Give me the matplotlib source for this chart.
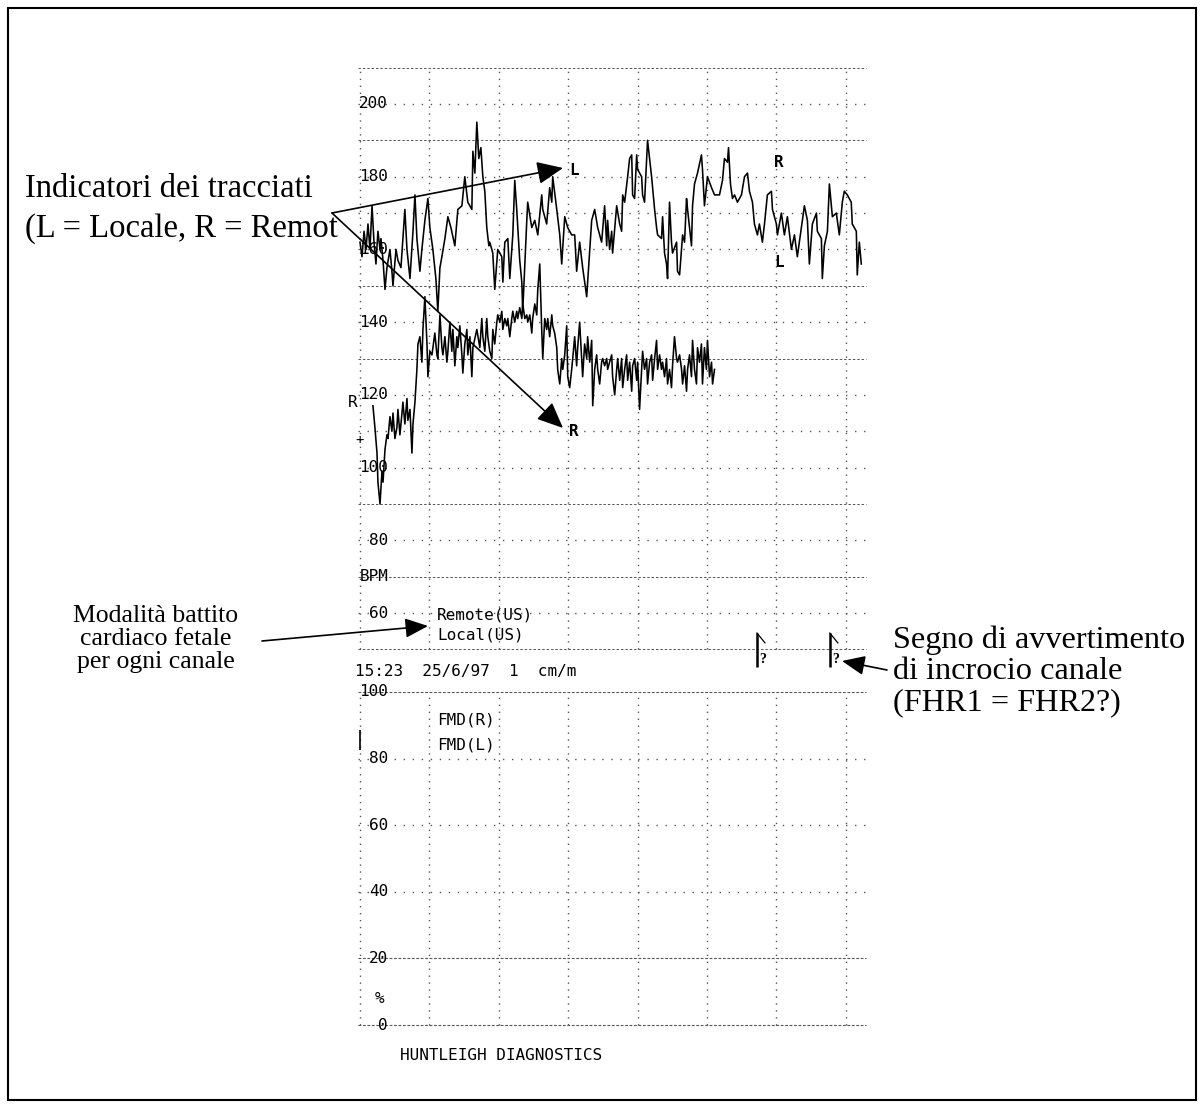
import numpy as np
import matplotlib
matplotlib.use("Agg")
import matplotlib.pyplot as plt
from matplotlib.patches import Rectangle

# ---------------- data ----------------
# Local channel FHR trace: time in seconds from the first minute line, bpm
local_time_s = [0.0, 1.7, 3.5, 5.2, 6.9, 8.6, 10.4, 12.1, 13.8, 15.5,
                17.3, 18.1, 19.9, 21.6, 23.3, 25.9, 27.6, 28.5, 31.1, 32.8,
                35.4, 37.1, 38.8, 40.6, 43.2, 45.8, 47.5, 49.2, 51.8, 53.5,
                56.1, 58.7, 60.4, 63.0, 65.6, 67.3, 69.1, 70.8, 73.4, 76.0,
                78.6, 82.0, 84.6, 88.1, 90.6, 93.2, 96.7, 97.6, 99.3, 101.0,
                102.7, 104.5, 106.2, 107.9, 109.6, 111.4, 112.2, 114.8, 116.5, 119.1,
                122.6, 123.5, 125.2, 127.8, 129.5, 132.1, 133.8, 135.5, 138.1, 139.9,
                140.7, 144.2, 145.0, 148.5, 151.1, 153.7, 157.1, 158.0, 161.4, 164.0,
                165.8, 166.6, 170.1, 172.7, 174.4, 177.0, 179.6, 183.0, 185.6, 187.3,
                189.9, 192.5, 196.0, 196.8, 200.3, 202.9, 205.5, 208.9, 211.5, 213.3,
                214.1, 215.8, 217.6, 218.4, 221.9, 224.5, 226.2, 227.1, 228.8, 231.4,
                233.1, 234.9, 235.7, 237.4, 239.2, 240.0, 243.5, 244.3, 246.0, 247.8,
                248.6, 252.1, 254.7, 256.4, 257.3, 260.7, 261.6, 263.3, 265.0, 265.9,
                267.6, 269.3, 270.2, 273.7, 274.5, 276.3, 278.9, 280.6, 282.3, 283.2,
                286.6, 287.5, 289.2, 291.8, 295.2, 296.1, 297.8, 300.4, 303.9, 306.5,
                310.8, 313.4, 315.1, 317.7, 318.6, 320.3, 322.0, 323.8, 326.3, 329.8,
                332.4, 335.0, 336.7, 339.3, 341.0, 343.6, 345.3, 347.9, 349.7, 352.2,
                355.7, 356.6, 360.0, 360.9, 364.3, 366.9, 369.5, 373.0, 375.6, 378.1,
                381.6, 384.2, 386.8, 388.5, 391.1, 394.6, 395.4, 398.9, 399.7, 401.5,
                404.1, 405.8, 408.4, 411.8, 414.4, 417.0, 418.7, 421.3, 424.7, 425.6,
                429.1, 429.9, 431.7, 433.4]
local_bpm = [162, 158, 165, 160, 167, 160, 172, 162, 156, 165,
             160, 163, 157, 149, 155, 160, 154, 150, 160, 157,
             155, 163, 171, 160, 152, 165, 175, 163, 154, 160,
             168, 174, 166, 160, 152, 143, 155, 158, 163, 169,
             166, 161, 171, 172, 180, 173, 171, 187, 181, 195,
             185, 188, 180, 176, 166, 161, 162, 159, 149, 160,
             158, 151, 162, 163, 152, 164, 179, 171, 157, 151,
             143, 168, 173, 166, 168, 164, 175, 171, 167, 177,
             173, 180, 171, 164, 156, 169, 166, 164, 164, 154,
             162, 155, 147, 151, 168, 171, 166, 162, 172, 161,
             168, 160, 165, 159, 172, 167, 165, 175, 173, 180,
             185, 186, 175, 174, 186, 182, 180, 175, 173, 185,
             190, 180, 171, 166, 164, 163, 169, 159, 156, 152,
             173, 162, 159, 162, 154, 153, 164, 162, 174, 171,
             161, 172, 178, 181, 186, 182, 172, 180, 177, 175,
             175, 179, 185, 184, 188, 178, 174, 175, 173, 175,
             180, 181, 176, 173, 167, 164, 167, 162, 167, 175,
             176, 171, 167, 164, 170, 164, 169, 160, 164, 158,
             166, 172, 168, 156, 167, 170, 165, 163, 152, 161,
             165, 178, 169, 170, 164, 173, 176, 175, 173, 167,
             165, 153, 162, 156]

# Remote channel FHR trace
remote_time_s = [11.2, 12.9, 14.7, 15.5, 17.3, 19.0, 19.9, 21.6, 23.3, 24.2,
                 25.9, 27.6, 28.5, 30.2, 31.9, 32.8, 34.5, 36.3, 37.1, 38.8,
                 40.6, 41.4, 43.2, 44.9, 45.8, 47.5, 49.2, 50.1, 51.8, 53.5,
                 54.4, 56.1, 57.9, 58.7, 60.4, 62.2, 64.7, 66.5, 67.3, 69.1,
                 70.8, 71.7, 73.4, 75.1, 76.0, 77.7, 79.4, 80.3, 82.0, 83.7,
                 84.6, 86.3, 88.1, 88.9, 90.6, 92.4, 93.2, 95.0, 96.7, 97.6,
                 101.0, 103.6, 105.3, 106.2, 107.9, 109.6, 110.5, 112.2, 114.0, 114.8,
                 116.5, 118.3, 119.1, 120.9, 122.6, 123.5, 125.2, 126.9, 127.8, 129.5,
                 131.2, 132.1, 133.8, 135.5, 136.4, 138.1, 139.9, 140.7, 142.5, 144.2,
                 145.0, 146.8, 148.5, 149.3, 151.1, 152.8, 153.7, 155.4, 157.1, 158.0,
                 159.7, 161.4, 162.3, 164.0, 165.8, 166.6, 168.3, 170.1, 170.9, 172.7,
                 174.4, 175.3, 177.0, 178.7, 179.6, 181.3, 183.0, 183.9, 185.6, 187.3,
                 188.2, 189.9, 191.6, 192.5, 194.2, 196.0, 196.8, 198.6, 200.3, 201.2,
                 202.9, 204.6, 205.5, 207.2, 208.9, 209.8, 211.5, 213.3, 214.1, 215.8,
                 217.6, 218.4, 220.2, 221.9, 222.8, 224.5, 226.2, 227.1, 228.8, 230.5,
                 231.4, 233.1, 234.9, 235.7, 237.4, 239.2, 240.0, 241.7, 243.5, 244.3,
                 246.0, 247.8, 248.6, 250.4, 252.1, 253.0, 254.7, 256.4, 257.3, 259.0,
                 260.7, 261.6, 263.3, 265.0, 265.9, 267.6, 269.3, 270.2, 271.9, 273.7,
                 274.5, 276.3, 278.0, 278.9, 280.6, 282.3, 283.2, 284.9, 286.6, 287.5,
                 289.2, 290.9, 291.8, 293.5, 295.2, 296.1, 297.8, 299.5, 300.4, 302.2,
                 303.9, 304.8, 306.5]
remote_bpm = [117, 111, 104, 96, 90, 99, 96, 105, 109, 108,
              114, 110, 115, 108, 111, 116, 109, 115, 118, 112,
              119, 113, 116, 104, 112, 118, 127, 134, 136, 129,
              138, 147, 134, 125, 132, 131, 137, 131, 130, 142,
              133, 131, 136, 129, 132, 140, 132, 138, 128, 136,
              133, 139, 131, 126, 134, 138, 131, 136, 125, 133,
              138, 133, 141, 136, 132, 141, 136, 132, 130, 138,
              134, 140, 142, 140, 143, 138, 141, 139, 141, 136,
              141, 143, 140, 143, 141, 144, 141, 145, 141, 142,
              140, 142, 137, 141, 145, 142, 149, 156, 138, 130,
              141, 138, 141, 136, 142, 139, 137, 133, 127, 123,
              130, 127, 131, 139, 125, 122, 127, 130, 136, 128,
              133, 140, 130, 125, 134, 130, 136, 129, 135, 117,
              127, 131, 127, 123, 129, 130, 128, 130, 127, 129,
              131, 125, 120, 127, 130, 124, 130, 122, 127, 131,
              124, 129, 121, 128, 130, 124, 129, 116, 127, 132,
              127, 130, 123, 129, 131, 124, 130, 135, 127, 131,
              127, 129, 125, 130, 123, 127, 122, 128, 136, 130,
              129, 131, 127, 123, 128, 121, 127, 131, 125, 135,
              127, 123, 133, 129, 134, 123, 133, 127, 135, 125,
              129, 123, 127]

fhr_label_values = [200, 180, 160, 140, 120, 100, 80, 60]
fhr_grid_values = [50, 60, 70, 80, 90, 100, 110, 120, 130, 140, 150, 160, 170, 180, 190, 200, 210]
fhr_dense_values = [210, 190, 150, 130, 90, 70, 50]
fmd_label_values = [100, 80, 60, 40, 20, 0]
fmd_grid_values = [100, 80, 60, 40, 20, 0]
fmd_dense_values = [100, 20, 0]
minute_lines = [0, 1, 2, 3, 4, 5, 6, 7]
warning_times_min = [5.72, 6.77]
trace_marker_times_min = [3.0, 6.0]
channel_modes = ["Remote(US)", "Local(US)"]
fmd_channels = ["FMD(R)", "FMD(L)"]
header_text = "15:23  25/6/97  1  cm/m"
brand_text = "HUNTLEIGH DIAGNOSTICS"

# ---------------- layout ----------------
W, H = 1204, 1108
PX_MIN = 69.4          # pixels per minute (1 cm/min paper)
X_GRID0 = 360          # pixel of the first minute line
MONO = "DejaVu Sans Mono"
SERIF = "Liberation Serif"
CHART_FS = 11.5

fig = plt.figure(figsize=(W / 100, H / 100), dpi=100)
fig.patch.set_facecolor("white")


def fig_axes(x0, y0, x1, y1, z):
    ax = fig.add_axes([x0 / W, 1 - y1 / H, (x1 - x0) / W, (y1 - y0) / H], zorder=z)
    ax.set_axis_off()
    return ax


def px_to_min(x):
    return (x - X_GRID0) / PX_MIN


# background overlay (annotation text, frame, paper sheet)
bg = fig_axes(0, 0, W, H, 0)
bg.set_xlim(0, W)
bg.set_ylim(H, 0)
bg.add_patch(Rectangle((8, 8), 1188, 1092, fill=False, ec="black", lw=1.5, zorder=6))
bg.text(25, 197, "Indicatori dei tracciati", family=SERIF, fontsize=23.5, ha="left", va="baseline", zorder=3)
bg.text(25, 237, "(L = Locale, R = Remote)", family=SERIF, fontsize=23.5, ha="left", va="baseline", zorder=3)
bg.text(156, 622, "Modalità battito", family=SERIF, fontsize=18.5, ha="center", va="baseline", zorder=3)
bg.text(156, 645, "cardiaco fetale", family=SERIF, fontsize=18.5, ha="center", va="baseline", zorder=3)
bg.text(156, 668, "per ogni canale", family=SERIF, fontsize=18.5, ha="center", va="baseline", zorder=3)
bg.text(893, 648, "Segno di avvertimento", family=SERIF, fontsize=23.2, ha="left", va="baseline", zorder=3)
bg.text(893, 679, "di incrocio canale", family=SERIF, fontsize=23.2, ha="left", va="baseline", zorder=3)
bg.text(893, 710, "(FHR1 = FHR2?)", family=SERIF, fontsize=23.2, ha="left", va="baseline", zorder=3)
# the paper sheet hides the end of the left caption
bg.add_patch(Rectangle((338, 58), 530, 1015, fc="white", ec="none", zorder=5))

grid_col = "#555555"
t_left, t_right = px_to_min(358), px_to_min(866)

# ---------------- FHR panel ----------------
ax = fig_axes(338, 60, 868, 690, 2)
ax.set_xlim(px_to_min(338), px_to_min(868))
ax.set_ylim(200 - (690 - 104) / 3.636, 200 + (104 - 60) / 3.636)

for v in fhr_grid_values:
    if v in fhr_dense_values:
        ax.hlines(v, t_left, t_right, colors=grid_col, lw=0.7, linestyles=(0, (2.5, 2)))
    else:
        ax.hlines(v, t_left, t_right, colors=grid_col, lw=1.0, linestyles=(0, (1, 5.5)))
ax.vlines(minute_lines, 50, 210, colors=grid_col, lw=1.0, linestyles=(0, (1, 4)))

ax.plot(np.array(remote_time_s) / 60.0, remote_bpm, color="black", lw=1.15, zorder=3)
ax.plot(np.array(local_time_s) / 60.0, local_bpm, color="black", lw=1.15, zorder=3)

for v in fhr_label_values:
    ax.text(px_to_min(388), v, str(v), family=MONO, fontsize=CHART_FS, ha="right", va="center", zorder=4)
ax.text(px_to_min(389), 70, "BPM", family=MONO, fontsize=CHART_FS, ha="right", va="center")
ax.text(px_to_min(348), 117.8, "R", family=MONO, fontsize=CHART_FS, ha="left", va="center", zorder=4)
ax.text(px_to_min(355), 107.6, "+", family=MONO, fontsize=10, ha="left", va="center", zorder=4)

# channel trace markers
t1, t2 = trace_marker_times_min
ax.text(t1 + 0.08, 181.8, "L", family=MONO, fontsize=CHART_FS, weight="bold", ha="center", va="center", zorder=4)
ax.text(t1 + 0.08, 109.8, "R", family=MONO, fontsize=CHART_FS, weight="bold", ha="center", va="center", zorder=4)
ax.text(t2 + 0.04, 184.0, "R", family=MONO, fontsize=CHART_FS, weight="bold", ha="center", va="center", zorder=4)
ax.text(t2 + 0.04, 156.5, "L", family=MONO, fontsize=CHART_FS, weight="bold", ha="center", va="center", zorder=4)

ax.text(px_to_min(437), 59.5, channel_modes[0], family=MONO, fontsize=CHART_FS, ha="left", va="center")
ax.text(px_to_min(437), 54.0, channel_modes[1], family=MONO, fontsize=CHART_FS, ha="left", va="center")
ax.text(px_to_min(355), 43.8, header_text, family=MONO, fontsize=CHART_FS, ha="left", va="center")

# channel-crossing warning marks
for t in warning_times_min:
    ax.vlines(t, 45.2, 54.5, colors="black", lw=1.8)
    ax.plot([t, t + 8 / PX_MIN], [54.5, 51.8], color="black", lw=0.9)
    ax.text(t + 2 / PX_MIN, 47.3, "?", family=SERIF, fontsize=10, weight="bold", ha="left", va="center")

# ---------------- FMD panel ----------------
ax2 = fig_axes(338, 692, 868, 1030, 2)
ax2.set_xlim(px_to_min(338), px_to_min(868))
ax2.set_ylim((1025 - 1030) / 3.33, (1025 - 692) / 3.33)
for v in fmd_grid_values:
    if v in fmd_dense_values:
        ax2.hlines(v, t_left, t_right, colors=grid_col, lw=0.8, linestyles=(0, (2.5, 1.5)))
    else:
        ax2.hlines(v, t_left, t_right, colors=grid_col, lw=1.0, linestyles=(0, (1, 5.5)))
ax2.vlines(minute_lines, 0, 100, colors=grid_col, lw=1.0, linestyles=(0, (1, 4)))
for v in fmd_label_values:
    ax2.text(px_to_min(388), v, str(v), family=MONO, fontsize=CHART_FS, ha="right", va="center")
ax2.text(px_to_min(384), 8, "%", family=MONO, fontsize=CHART_FS, ha="right", va="center")
ax2.text(px_to_min(437), 91.6, fmd_channels[0], family=MONO, fontsize=CHART_FS, ha="left", va="center")
ax2.text(px_to_min(437), 84.0, fmd_channels[1], family=MONO, fontsize=CHART_FS, ha="left", va="center")
ax2.vlines(px_to_min(360), 82.6, 88.6, colors="black", lw=1.2)

# ---------------- top overlay: arrows and footer ----------------
top = fig_axes(0, 0, W, H, 3)
top.set_xlim(0, W)
top.set_ylim(H, 0)


def arrow(tail, tip, hl=0.8, hw=0.35, ms=20, lw=1.2):
    top.annotate("", xy=tip, xytext=tail,
                 arrowprops=dict(arrowstyle=f"-|>,head_length={hl},head_width={hw}",
                                 mutation_scale=ms, lw=lw, color="black",
                                 shrinkA=0, shrinkB=0))


arrow((332, 213), (563, 168))
arrow((332, 213), (563, 428))
arrow((262, 641), (428, 626), hl=0.7, hw=0.3)
arrow((887, 670), (842, 661), hl=0.7, hw=0.3)

top.text(400, 1055, brand_text, family=MONO, fontsize=CHART_FS, ha="left", va="center")

fig.savefig("out.png", dpi=100, facecolor="white")
